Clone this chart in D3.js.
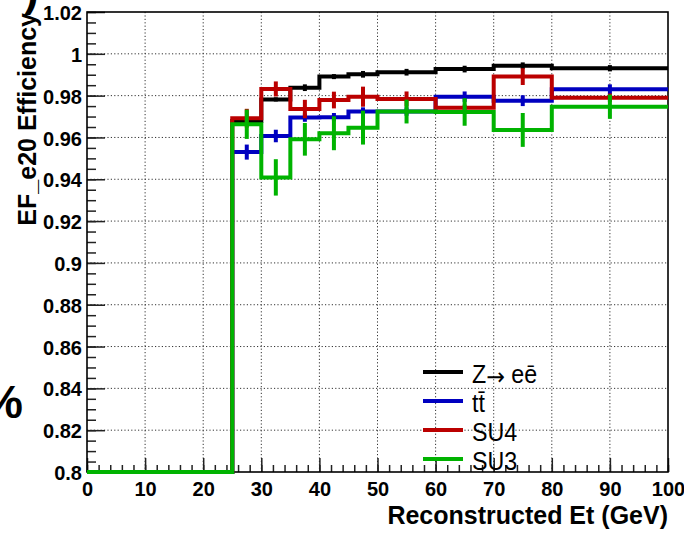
<!DOCTYPE html>
<html>
<head>
<meta charset="utf-8">
<script src="https://cdn.jsdelivr.net/npm/d3@7"></script>
<style>
  html, body { margin: 0; padding: 0; background: #fff; }
  svg { display: block; }
</style>
</head>
<body>
<svg id="chart" width="684" height="533"></svg>
<script>
// ---------------- data ----------------
const binEdges = [0, 5, 10, 15, 20, 25, 30, 35, 40, 45, 50, 60, 70, 80, 100];

const zeeEff = [0, 0, 0, 0, 0, 0.9679, 0.9782, 0.9838, 0.9891, 0.9902, 0.9912, 0.9927, 0.9943, 0.9931];
const zeeErr = [0, 0, 0, 0, 0, 0.0020, 0.0010, 0.0016, 0.0012, 0.0016, 0.0016, 0.0016, 0.0016, 0.0015];

const ttEff  = [0, 0, 0, 0, 0, 0.9530, 0.9607, 0.9695, 0.9697, 0.9724, 0.9724, 0.9795, 0.9776, 0.9830];
const ttErr  = [0, 0, 0, 0, 0, 0.0036, 0.0030, 0.0020, 0.0020, 0.0020, 0.0020, 0.0025, 0.0026, 0.0024];

const su4Eff = [0, 0, 0, 0, 0, 0.9692, 0.9832, 0.9736, 0.9779, 0.9795, 0.9784, 0.9742, 0.9891, 0.9790];
const su4Err = [0, 0, 0, 0, 0, 0.0045, 0.0036, 0.0044, 0.0040, 0.0048, 0.0036, 0.0015, 0.0040, 0.0020];

const su3Eff = [0, 0, 0, 0, 0, 0.9663, 0.9409, 0.9591, 0.9620, 0.9647, 0.9724, 0.9722, 0.9636, 0.9747];
const su3Err = [0, 0, 0, 0, 0, 0.0070, 0.0087, 0.0078, 0.0081, 0.0081, 0.0057, 0.0066, 0.0081, 0.0058];

const seriesNames = ["Z\u2192 e\u0113", "t\u0074\u0304", "SU4", "SU3"];
const seriesColors = ["#000000", "#0000c0", "#bb0000", "#00b300"];

const xMajorTicks = [0, 10, 20, 30, 40, 50, 60, 70, 80, 90, 100];
const yMajorTicks = [0.8, 0.82, 0.84, 0.86, 0.88, 0.9, 0.92, 0.94, 0.96, 0.98, 1.0, 1.02];

const xTitle = "Reconstructed Et (GeV)";
const yTitle = "EF_e20 Efficiency";

// ---------------- layout ----------------
const svg = d3.select("#chart");
const L = 87, R = 668, T = 12, B = 472;
const x = d3.scaleLinear().domain([0, 100]).range([L, R]);
const y = d3.scaleLinear().domain([0.8, 1.02]).range([B, T]).clamp(true);

const FONT = "'Liberation Sans', Arial, Helvetica, sans-serif";

// grid (dotted)
const grid = svg.append("g");
grid.selectAll("line.gx").data(xMajorTicks.slice(1, -1)).join("line")
  .attr("x1", d => x(d)).attr("x2", d => x(d)).attr("y1", T).attr("y2", B)
  .attr("stroke", "#333").attr("stroke-width", 1).attr("stroke-dasharray", "1.2 2.2");
grid.selectAll("line.gy").data(yMajorTicks.slice(1, -1)).join("line")
  .attr("y1", d => y(d)).attr("y2", d => y(d)).attr("x1", L).attr("x2", R)
  .attr("stroke", "#333").attr("stroke-width", 1).attr("stroke-dasharray", "1.2 2.2");

// axes
const yMinor = d3.range(0.8, 1.0201, 0.005).map(v => +v.toFixed(3));
const xMinor = d3.range(0, 100.01, 2);
const fmt = v => String(+v.toFixed(2));

const gy = svg.append("g").attr("transform", `translate(${L},0)`)
  .call(d3.axisLeft(y).tickValues(yMajorTicks).tickSize(-18).tickPadding(5).tickFormat(fmt));
const gyMinor = svg.append("g").attr("transform", `translate(${L},0)`)
  .call(d3.axisLeft(y).tickValues(yMinor).tickSize(-9).tickFormat(""));
const gx = svg.append("g").attr("transform", `translate(0,${B})`)
  .call(d3.axisBottom(x).tickValues(xMajorTicks).tickSize(-14).tickPadding(10).tickFormat(d => String(d)));
const gxMinor = svg.append("g").attr("transform", `translate(0,${B})`)
  .call(d3.axisBottom(x).tickValues(xMinor).tickSize(-7).tickFormat(""));

[gy, gyMinor, gx, gxMinor].forEach(g => {
  g.select(".domain").remove();
  g.selectAll(".tick line").attr("stroke", "#222").attr("stroke-width", 1.5);
  g.selectAll(".tick text").attr("font-family", FONT).attr("font-weight", "bold")
    .attr("font-size", 20).attr("fill", "#000");
});
gy.selectAll(".tick text").attr("dy", "0.38em");

// frame
svg.append("rect").attr("x", L).attr("y", T).attr("width", R - L).attr("height", B - T)
  .attr("fill", "none").attr("stroke", "#000").attr("stroke-width", 1.6);

// histograms
const allEff = [zeeEff, ttEff, su4Eff, su3Eff];
const allErr = [zeeErr, ttErr, su4Err, su3Err];
const plot = svg.append("g");
allEff.forEach((eff, si) => {
  const pts = [];
  eff.forEach((v, i) => { pts.push([binEdges[i], v]); pts.push([binEdges[i + 1], v]); });
  const line = d3.line().x(d => x(d[0])).y(d => y(d[1]));
  const g = plot.append("g");
  g.append("path").attr("d", line(pts)).attr("fill", "none")
    .attr("stroke", seriesColors[si]).attr("stroke-width", 4).attr("stroke-linejoin", "miter");
  g.selectAll("line.err").data(eff.map((v, i) => ({ v, e: allErr[si][i], c: (binEdges[i] + binEdges[i + 1]) / 2 })))
    .join("line")
    .attr("x1", d => x(d.c)).attr("x2", d => x(d.c))
    .attr("y1", d => y(d.v - d.e)).attr("y2", d => y(d.v + d.e))
    .attr("stroke", seriesColors[si]).attr("stroke-width", 4);
});

// legend
const leg = svg.append("g");
const legRowY = d => 372 + d * 29;
seriesNames.forEach((name, i) => {
  leg.append("line").attr("x1", 423).attr("x2", 463).attr("y1", legRowY(i)).attr("y2", legRowY(i))
    .attr("stroke", seriesColors[i]).attr("stroke-width", 4);
  const t = leg.append("text").attr("transform", `translate(472,${legRowY(i) + 11}) scale(0.93,1)`)
    .attr("font-family", FONT).attr("font-size", 25).attr("fill", "#000");
  const parts = name.split("\u2192");
  if (parts.length === 2) {
    t.append("tspan").text(parts[0]);
    t.append("tspan").attr("font-family", "'DejaVu Sans', sans-serif").attr("font-size", 24)
      .attr("dy", 2).text("\u2192");
    t.append("tspan").attr("dy", -2).text(parts[1]);
  } else {
    t.text(name);
  }
});

// axis titles
svg.append("text").attr("x", R).attr("y", 524).attr("text-anchor", "end")
  .attr("font-family", FONT).attr("font-weight", "bold").attr("font-size", 25).text(xTitle);
svg.append("text").attr("transform", "translate(36,13) rotate(-90)").attr("text-anchor", "end")
  .attr("font-family", FONT).attr("font-weight", "bold").attr("font-size", 25).text(yTitle);

// cropped fragments at the image edge
svg.append("text").attr("x", 24).attr("y", 6).attr("font-family", FONT).attr("font-weight", "bold")
  .attr("font-size", 44).text(")");
svg.append("text").attr("x", 23).attr("y", 418).attr("text-anchor", "end").attr("font-family", FONT)
  .attr("font-weight", "bold").attr("font-size", 46).text("%");
</script>
</body>
</html>
